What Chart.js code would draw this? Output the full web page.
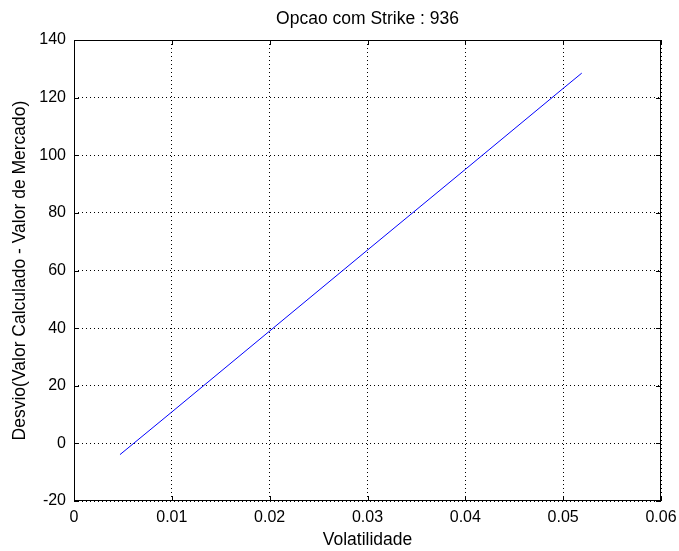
<!DOCTYPE html>
<html><head><meta charset="utf-8">
<script src="https://cdn.jsdelivr.net/npm/chart.js@4"></script>
<style>html,body{margin:0;padding:0;background:#fff}#wrap{width:679px;height:551px}</style>
</head><body><div id="wrap"><canvas id="c" width="679" height="551"></canvas></div>
<script>
const volatilidade = [0.0047, 0.01, 0.02, 0.03, 0.04, 0.05, 0.0519];
const desvio = [-3.9, 10.9, 39.0, 67.1, 95.1, 123.2, 128.5];
const xTicks = [0, 0.01, 0.02, 0.03, 0.04, 0.05, 0.06];
const yTicks = [-20, 0, 20, 40, 60, 80, 100, 120, 140];
const titleText = 'Opcao com Strike : 936';
const xTitle = 'Volatilidade';
const yTitle = 'Desvio(Valor Calculado - Valor de Mercado)';

const FONT = 'Arial, "Liberation Sans", sans-serif';

const boxPlugin = {
  id: 'box',
  afterDatasetsDraw(chart) {
    const {ctx, chartArea: a, scales} = chart;
    ctx.save();
    ctx.strokeStyle = '#000';
    ctx.lineWidth = 1;
    ctx.setLineDash([]);
    ctx.strokeRect(a.left + 0.5, a.top + 0.5, a.right - a.left - 1, a.bottom - a.top - 1);
    const L = 5;
    ctx.beginPath();
    xTicks.forEach(v => {
      const x = Math.round(scales.x.getPixelForValue(v)) + 0.5;
      ctx.moveTo(x, a.bottom); ctx.lineTo(x, a.bottom - L);
      ctx.moveTo(x, a.top); ctx.lineTo(x, a.top + L);
    });
    yTicks.forEach(v => {
      const y = Math.round(scales.y.getPixelForValue(v)) + 0.5;
      ctx.moveTo(a.left, y); ctx.lineTo(a.left + L, y);
      ctx.moveTo(a.right, y); ctx.lineTo(a.right - L, y);
    });
    ctx.stroke();
    ctx.restore();
  }
};

new Chart(document.getElementById('c'), {
  type: 'scatter',
  data: {
    datasets: [{
      data: volatilidade.map((v, i) => ({x: v, y: desvio[i]})),
      showLine: true,
      borderColor: '#0000ff',
      borderWidth: 1,
      pointRadius: 0,
      fill: false
    }]
  },
  options: {
    responsive: false,
    animation: false,
    devicePixelRatio: 1,
    layout: {padding: {left: 10, right: 18, top: 0, bottom: 0}},
    plugins: {
      legend: {display: false},
      tooltip: {enabled: false},
      title: {
        display: true, text: titleText, color: '#000', fullSize: false,
        font: {family: FONT, size: 17.5, weight: 'normal', lineHeight: '20px'},
        padding: {top: 9, bottom: 11}
      }
    },
    scales: {
      x: {
        type: 'linear', min: 0, max: 0.06,
        afterBuildTicks(s) { s.ticks = xTicks.map(v => ({value: v})); },
        afterFit(s) { s.height = 50; s.paddingLeft = 0; s.paddingRight = 0; },
        ticks: {color: '#000', font: {family: FONT, size: 16}, padding: 7,
          callback: v => String(v)},
        grid: {color: '#000', lineWidth: 1, drawTicks: false},
        border: {display: false, dash: [1, 3]},
        title: {display: true, text: xTitle, color: '#000', font: {family: FONT, size: 17.5}, padding: {top: 0, bottom: 0}}
      },
      y: {
        type: 'linear', min: -20, max: 140,
        afterBuildTicks(s) { s.ticks = yTicks.map(v => ({value: v})); },
        afterFit(s) { s.width = 64; s.paddingTop = 0; s.paddingBottom = 0; },
        ticks: {color: '#000', font: {family: FONT, size: 16}, padding: 8},
        grid: {color: '#000', lineWidth: 1, drawTicks: false},
        border: {display: false, dash: [1, 3]},
        title: {display: true, text: yTitle, color: '#000', font: {family: FONT, size: 17.5}, padding: {top: 0, bottom: 0}}
      }
    }
  },
  plugins: [boxPlugin]
});
</script></body></html>
